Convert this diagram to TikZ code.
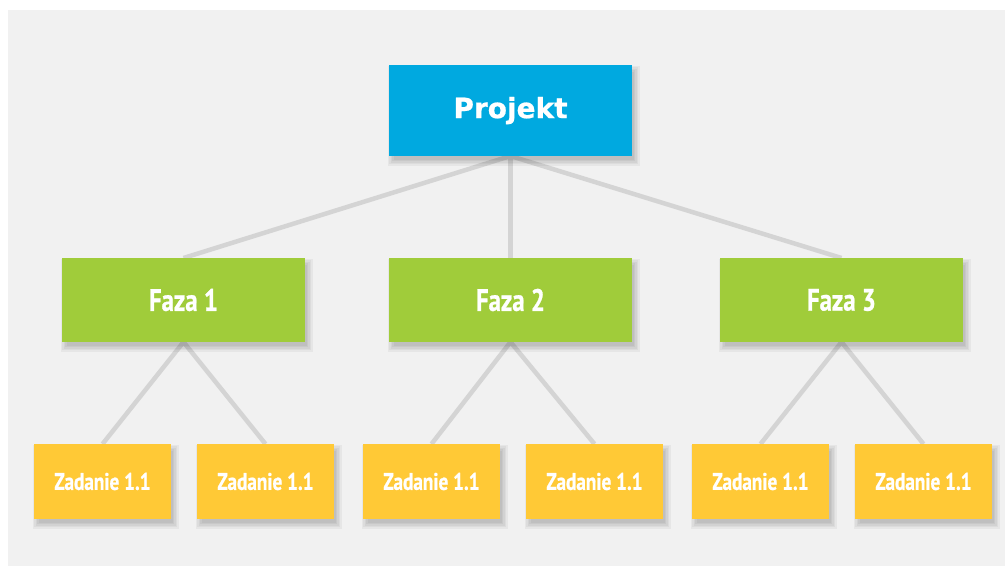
\documentclass[tikz,border=0pt]{standalone}
\usepackage{fontspec}
\newfontfamily\headfont{DejaVu Sans}[FakeBold=0.6]
\newfontfamily\condfont{PT Sans}[FakeStretch=0.8,FakeBold=0.8]
\definecolor{canvas}{HTML}{F1F1F1}
\definecolor{rootblue}{HTML}{00A9E0}
\definecolor{phasegreen}{HTML}{A0CC3A}
\definecolor{taskyellow}{HTML}{FFC936}
\definecolor{linkgray}{HTML}{D4D4D4}
\pgfdeclarelayer{back}
\pgfdeclarelayer{edges}
\pgfdeclarelayer{shades}
\pgfsetlayers{back,edges,shades,main}
\tikzset{
  box/.style={draw=none, inner sep=0pt, outer sep=0pt, text=white},
  rootbox/.style={box, fill=rootblue, minimum width=243pt, minimum height=91pt,
    font=\headfont\bfseries\fontsize{28}{30}\selectfont},
  phasebox/.style={box, fill=phasegreen, minimum width=243pt, minimum height=84pt,
    font=\condfont\bfseries\fontsize{31}{33}\selectfont},
  taskbox/.style={box, fill=taskyellow, minimum width=137pt, minimum height=75pt,
    font=\condfont\bfseries\fontsize{24}{26}\selectfont},
  link/.style={draw=linkgray, line width=4.5pt},
  shade step/.style={fill=black, fill opacity=0.045}
}
\begin{document}
\begin{tikzpicture}[x=1pt, y=1pt]
  \useasboundingbox (0,-566) rectangle (1005,0);
  \begin{pgfonlayer}{back}
    \fill[canvas] (8,-10) rectangle (1005,-566);
  \end{pgfonlayer}

  % top level
  \node[rootbox] (root) at (510.5,-110.5) {Projekt};

  % phases
  \node[phasebox] (f1) at (183.5,-300) {Faza 1};
  \node[phasebox] (f2) at (510.5,-300) {Faza 2};
  \node[phasebox] (f3) at (841.5,-300) {Faza 3};

  % tasks
  \node[taskbox] (t11) at (102.5,-481.5) {Zadanie 1.1};
  \node[taskbox] (t12) at (265.5,-481.5) {Zadanie 1.1};
  \node[taskbox] (t21) at (431.5,-481.5) {Zadanie 1.1};
  \node[taskbox] (t22) at (594.5,-481.5) {Zadanie 1.1};
  \node[taskbox] (t31) at (760.5,-481.5) {Zadanie 1.1};
  \node[taskbox] (t32) at (923.5,-481.5) {Zadanie 1.1};

  % soft drop shadows, offset down and to the right
  \begin{pgfonlayer}{shades}
    \foreach \n in {root,f1,f2,f3,t11,t12,t21,t22,t31,t32}
      \foreach \r in {-1.5,0,1.5,3,4.5}
        \fill[shade step] ([shift={(3-\r,-5-\r)}]\n.south west)
          rectangle ([shift={(3+\r,-5+\r)}]\n.north east);
  \end{pgfonlayer}

  % connectors
  \begin{pgfonlayer}{edges}
    \foreach \p in {f1,f2,f3}
      \draw[link] (root.south) -- (\p.north);
    \draw[link] (f1.south) -- (t11.north);
    \draw[link] (f1.south) -- (t12.north);
    \draw[link] (f2.south) -- (t21.north);
    \draw[link] (f2.south) -- (t22.north);
    \draw[link] (f3.south) -- (t31.north);
    \draw[link] (f3.south) -- (t32.north);
  \end{pgfonlayer}
\end{tikzpicture}
\end{document}
